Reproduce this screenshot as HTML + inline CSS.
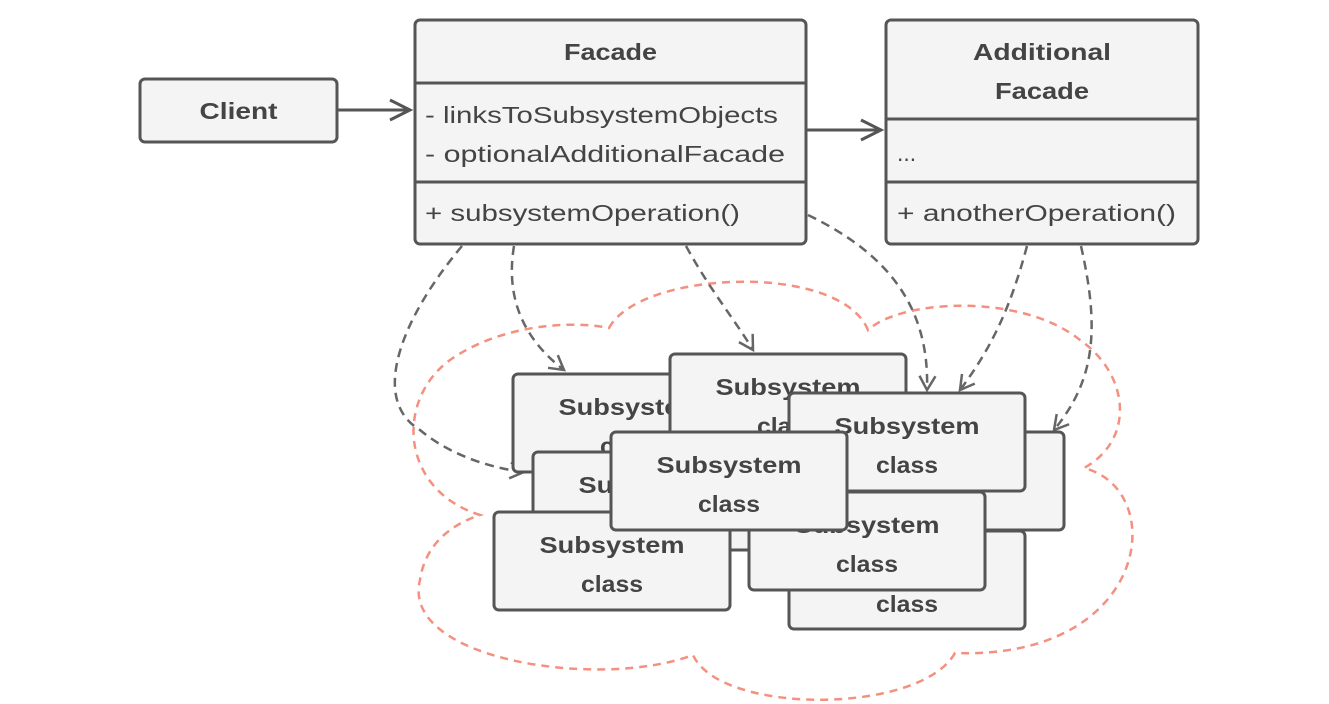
<!DOCTYPE html>
<html><head><meta charset="utf-8"><style>
html,body{margin:0;padding:0;background:#fff;}
svg{display:block;}
text{font-family:"Liberation Sans",sans-serif;fill:#444;}
.b{font-weight:bold;font-size:23px;}
.r{font-size:23px;}
.box{fill:#f4f4f4;stroke:#555;stroke-width:3;}
.ln{stroke:#555;stroke-width:3;}
.d{fill:none;stroke:#666;stroke-width:2.5;stroke-dasharray:9,6;}
</style></head><body>
<svg width="1329" height="704" viewBox="0 0 1329 704" xmlns="http://www.w3.org/2000/svg">
<defs>
<marker id="a" markerWidth="20" markerHeight="20" refX="16" refY="10" orient="auto" markerUnits="userSpaceOnUse">
<path d="M2,2 L16,10 L2,18" fill="none" stroke="#666" stroke-width="2.5"/>
</marker>
</defs>
<!-- cloud -->
<path d="M609,328 C640,270 840,262 868,330 C900,300 1020,292 1080,340 C1130,375 1135,440 1084,468 C1170,490 1150,660 955,653 C920,715 720,715 693,655 C600,690 400,660 420,580 C425,545 450,525 480,515 C400,490 395,400 450,360 C500,325 570,320 609,328 Z" fill="none" stroke="#f4907f" stroke-width="2.5" stroke-dasharray="8,6"/>

<!-- client -->
<rect class="box" x="140" y="79" width="197" height="63" rx="5"/>
<text class="b" x="238.5" y="119" text-anchor="middle" textLength="78" lengthAdjust="spacingAndGlyphs">Client</text>
<line class="ln" x1="337" y1="110" x2="410" y2="110"/>
<path d="M390,100 L410,110 L390,120" fill="none" stroke="#555" stroke-width="3"/>

<!-- facade -->
<rect class="box" x="415" y="20" width="391" height="224" rx="5"/>
<line class="ln" x1="415" y1="83" x2="806" y2="83"/>
<line class="ln" x1="415" y1="182" x2="806" y2="182"/>
<text class="b" x="610.5" y="60" text-anchor="middle" textLength="93" lengthAdjust="spacingAndGlyphs">Facade</text>
<text class="r" x="425" y="123" textLength="353" lengthAdjust="spacingAndGlyphs">- linksToSubsystemObjects</text>
<text class="r" x="425" y="162" textLength="360" lengthAdjust="spacingAndGlyphs">- optionalAdditionalFacade</text>
<text class="r" x="425" y="221" textLength="315" lengthAdjust="spacingAndGlyphs">+ subsystemOperation()</text>

<line class="ln" x1="806" y1="130" x2="881" y2="130"/>
<path d="M861,120 L881,130 L861,140" fill="none" stroke="#555" stroke-width="3"/>

<!-- additional facade -->
<rect class="box" x="886" y="20" width="312" height="224" rx="5"/>
<line class="ln" x1="886" y1="119" x2="1198" y2="119"/>
<line class="ln" x1="886" y1="182" x2="1198" y2="182"/>
<text class="b" x="1042" y="60" text-anchor="middle" textLength="138" lengthAdjust="spacingAndGlyphs">Additional</text>
<text class="b" x="1042" y="99" text-anchor="middle" textLength="94" lengthAdjust="spacingAndGlyphs">Facade</text>
<text class="r" x="897" y="161">...</text>
<text class="r" x="897" y="221" textLength="279" lengthAdjust="spacingAndGlyphs">+ anotherOperation()</text>

<!-- dashed arrows -->
<path class="d" marker-end="url(#a)" d="M462,246 C400,320 370,400 420,430 C450,455 490,468 524,472"/>
<path class="d" marker-end="url(#a)" d="M514,246 C505,300 525,340 564,370"/>
<path class="d" marker-end="url(#a)" d="M686,246 C710,290 735,320 753,350"/>
<path class="d" marker-end="url(#a)" d="M808,215 C880,250 930,300 927,390"/>
<path class="d" marker-end="url(#a)" d="M1027,246 C1010,310 990,350 960,390"/>
<path class="d" marker-end="url(#a)" d="M1081,246 C1100,330 1095,380 1054,430"/>

<!-- subsystem boxes -->
<g>
<rect class="box" x="513" y="374" width="236" height="98" rx="5"/>
<text class="b" x="631" y="415" text-anchor="middle" textLength="145" lengthAdjust="spacingAndGlyphs">Subsystem</text>
<text class="b" x="631" y="454" text-anchor="middle" textLength="62" lengthAdjust="spacingAndGlyphs">class</text>
</g>
<g>
<rect class="box" x="670" y="354" width="236" height="98" rx="5"/>
<text class="b" x="788" y="395" text-anchor="middle" textLength="145" lengthAdjust="spacingAndGlyphs">Subsystem</text>
<text class="b" x="788" y="434" text-anchor="middle" textLength="62" lengthAdjust="spacingAndGlyphs">class</text>
</g>
<g>
<rect class="box" x="828" y="432" width="236" height="98" rx="5"/>
</g>
<g>
<rect class="box" x="789" y="393" width="236" height="98" rx="5"/>
<text class="b" x="907" y="434" text-anchor="middle" textLength="145" lengthAdjust="spacingAndGlyphs">Subsystem</text>
<text class="b" x="907" y="473" text-anchor="middle" textLength="62" lengthAdjust="spacingAndGlyphs">class</text>
</g>
<g>
<rect class="box" x="533" y="452" width="236" height="98" rx="5"/>
<text class="b" x="651" y="493" text-anchor="middle" textLength="145" lengthAdjust="spacingAndGlyphs">Subsystem</text>
</g>
<g>
<rect class="box" x="789" y="531" width="236" height="98" rx="5"/>
<text class="b" x="907" y="612" text-anchor="middle" textLength="62" lengthAdjust="spacingAndGlyphs">class</text>
</g>
<g>
<rect class="box" x="749" y="492" width="236" height="98" rx="5"/>
<text class="b" x="867" y="533" text-anchor="middle" textLength="145" lengthAdjust="spacingAndGlyphs">Subsystem</text>
<text class="b" x="867" y="572" text-anchor="middle" textLength="62" lengthAdjust="spacingAndGlyphs">class</text>
</g>
<g>
<rect class="box" x="494" y="512" width="236" height="98" rx="5"/>
<text class="b" x="612" y="553" text-anchor="middle" textLength="145" lengthAdjust="spacingAndGlyphs">Subsystem</text>
<text class="b" x="612" y="592" text-anchor="middle" textLength="62" lengthAdjust="spacingAndGlyphs">class</text>
</g>
<g>
<rect class="box" x="611" y="432" width="236" height="98" rx="5"/>
<text class="b" x="729" y="473" text-anchor="middle" textLength="145" lengthAdjust="spacingAndGlyphs">Subsystem</text>
<text class="b" x="729" y="512" text-anchor="middle" textLength="62" lengthAdjust="spacingAndGlyphs">class</text>
</g>
</svg>
</body></html>
